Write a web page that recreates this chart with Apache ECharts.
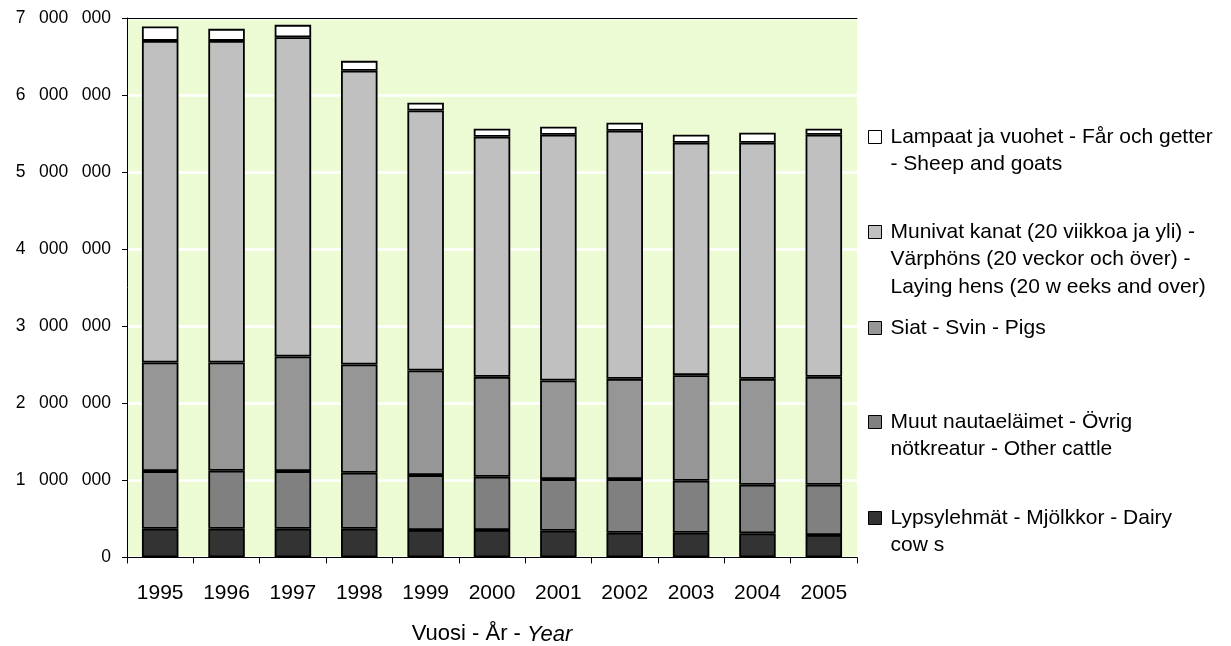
<!DOCTYPE html>
<html>
<head>
<meta charset="utf-8">
<script src="https://cdn.jsdelivr.net/npm/echarts@6/dist/echarts.min.js"></script>
<style>
html,body{margin:0;padding:0;background:#fff;}
#chart{width:1231px;height:646px;}
</style>
</head>
<body>
<div id="chart"></div>
<script>
// ---- Data ----
const years = ['1995','1996','1997','1998','1999','2000','2001','2002','2003','2004','2005'];
const dairyCows   = [372000, 372000, 372000, 372000, 355000, 355000, 346000, 320000, 320000, 312000, 290000];
const otherCattle = [748000, 752000, 748000, 726000, 713000, 691000, 670000, 696000, 674000, 630000, 652000];
const pigs        = [1409000, 1405000, 1487000, 1405000, 1357000, 1297000, 1280000, 1301000, 1371000, 1375000, 1401000];
const layingHens  = [4174000, 4174000, 4143000, 3812000, 3375000, 3116000, 3189000, 3220000, 3016000, 3064000, 3142000];
const sheepGoats  = [186000, 156000, 161000, 129000, 100000, 104000, 104000, 103000, 104000, 130000, 78000];

const seriesNames = [
  'Lypsylehmät - Mjölkkor - Dairy cow s',
  'Muut nautaeläimet - Övrig nötkreatur - Other cattle',
  'Siat - Svin - Pigs',
  'Munivat kanat (20 viikkoa ja yli) - Värphöns (20 veckor och över) - Laying hens (20 w eeks and over)',
  'Lampaat ja vuohet - Får och getter - Sheep and goats'
];
const legendLines = [
  ['Lypsylehmät - Mjölkkor - Dairy', 'cow s'],
  ['Muut nautaeläimet - Övrig', 'nötkreatur - Other cattle'],
  ['Siat - Svin - Pigs'],
  ['Munivat kanat (20 viikkoa ja yli) -', 'Värphöns (20 veckor och över) -', 'Laying hens (20 w eeks and over)'],
  ['Lampaat ja vuohet - Får och getter', '- Sheep and goats']
];
const yTicks = {min: 0, max: 7000000, interval: 1000000};
const axisTitle = ['Vuosi - År - ', 'Year'];

// ---- Styling ----
const FONT = 'Liberation Sans, Arial, sans-serif';
const colors = ['#333333', '#808080', '#969696', '#c0c0c0', '#ffffff'];
const values = [dairyCows, otherCattle, pigs, layingHens, sheepGoats];
const legendIconY = [518, 422, 328, 232, 137];
const LH = 27.7;

// dotted plot background pattern
const pc = document.createElement('canvas');
pc.width = 8; pc.height = 8;
const pctx = pc.getContext('2d');
pctx.fillStyle = '#ecfbd4';
pctx.fillRect(0, 0, 8, 8);
pctx.fillStyle = '#f7fdee';
pctx.fillRect(1, 1, 1, 1);
pctx.fillRect(5, 5, 1, 1);

function fmtY(v) {
  return String(v).replace(/\B(?=(\d{3})+(?!\d))/g, '\u2002 ');
}

const series = values.map((arr, i) => ({
  name: seriesNames[i],
  type: 'bar',
  stack: 'total',
  data: arr,
  barCategoryGap: '45%',
  itemStyle: {color: colors[i], borderColor: '#000', borderWidth: 1.8},
  emphasis: {disabled: true},
  animation: false
}));

// Each legend entry: leading blank lines so the first text line sits beside the icon
const legends = seriesNames.map((name, i) => {
  const n = legendLines[i].length;
  return {
    data: [name],
    orient: 'vertical',
    left: 868,
    top: legendIconY[i] - (2 * n - 1) * LH / 2,
    padding: 0,
    itemWidth: 13,
    itemHeight: 13,
    icon: 'rect',
    selectedMode: false,
    itemStyle: {borderColor: '#000', borderWidth: 1},
    formatter: () => '\n'.repeat(n - 1) + legendLines[i].join('\n'),
    textStyle: {
      fontFamily: FONT, fontSize: 21, color: '#000',
      lineHeight: LH, padding: [0, 0, 0, 4]
    }
  };
});

const chart = echarts.init(document.getElementById('chart'), null, {renderer: 'canvas'});
chart.setOption({
  animation: false,
  backgroundColor: '#ffffff',
  textStyle: {fontFamily: FONT},
  legend: legends,
  grid: {
    left: 127, right: 374, top: 18, bottom: 88.6,
    outerBoundsMode: 'none',
    containLabel: false,
    show: true, borderWidth: 0,
    backgroundColor: {image: pc, repeat: 'repeat'}
  },
  xAxis: [{
    type: 'category',
    data: years,
    position: 'bottom',
    axisLine: {lineStyle: {color: '#000', width: 1}},
    axisTick: {show: true, length: 6, alignWithLabel: false, lineStyle: {color: '#000'}},
    axisLabel: {color: '#000', fontSize: 21, fontFamily: FONT, margin: 25},
    name: '{a|' + axisTitle[0] + '}{b|' + axisTitle[1] + '}',
    nameLocation: 'middle',
    nameGap: 66,
    nameTextStyle: {
      rich: {
        a: {fontSize: 22, fontFamily: FONT, color: '#000'},
        b: {fontSize: 22, fontFamily: FONT, color: '#000', fontStyle: 'italic'}
      }
    }
  }, {
    type: 'category',
    data: years,
    position: 'top',
    axisLine: {show: true, lineStyle: {color: '#000', width: 1}},
    axisTick: {show: false},
    axisLabel: {show: false}
  }],
  yAxis: {
    type: 'value',
    min: yTicks.min, max: yTicks.max, interval: yTicks.interval,
    axisLine: {show: true, lineStyle: {color: '#000', width: 1}},
    axisTick: {show: true, length: 5, lineStyle: {color: '#000'}},
    axisLabel: {color: '#000', fontSize: 17.5, fontFamily: FONT, margin: 16, formatter: fmtY},
    splitLine: {show: true, lineStyle: {color: '#ffffff', width: 2.5}}
  },
  series: series
});
</script>
</body>
</html>
